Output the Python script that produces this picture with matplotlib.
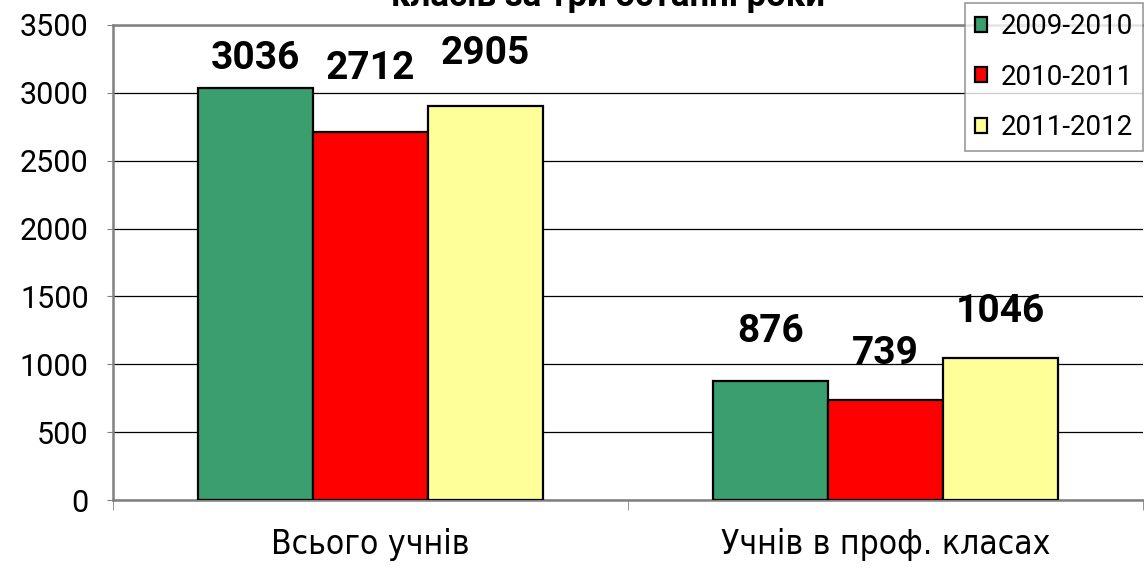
import matplotlib
matplotlib.use("Agg")
import matplotlib.pyplot as plt
from matplotlib import font_manager
import numpy as np

# data
categories = ["Всього учнів", "Учнів в проф. класах"]
years = ["2009-2010", "2010-2011", "2011-2012"]
values = [
    [3036, 876],   # 2009-2010
    [2712, 739],   # 2010-2011
    [2905, 1046],  # 2011-2012
]
colors = ["#3A9E6E", "#FF0000", "#FFFF99"]
# зсув підписів над стовпчиками (пікселі), як у оригіналі
label_offsets = [[11, 31], [45, 28], [34, 28]]

# вузький шрифт для підписів категорій, якщо є
cond = [f for f in font_manager.fontManager.ttflist
        if f.name == "DejaVu Sans" and f.stretch == "condensed" and f.weight in (400, "normal")]
if cond:
    cat_font = dict(family="DejaVu Sans", fontstretch="condensed", fontsize=24)
else:
    cat_font = dict(family="Roboto", fontsize=22)

plt.rcParams["font.family"] = ["Roboto", "DejaVu Sans"]

fig = plt.figure(figsize=(11.44, 5.70), dpi=100)
ax = fig.add_axes([113 / 1144, 70 / 570, 1030 / 1144, 475 / 570])

x = np.arange(len(categories))
w = 0.223
for i, (yr, vals) in enumerate(zip(years, values)):
    pos = x + (i - 1) * w
    ax.bar(pos, vals, width=w, color=colors[i], edgecolor="black",
           linewidth=1.6, label=yr, zorder=3)
    for p, v, off in zip(pos, vals, label_offsets[i]):
        ax.annotate(str(v), (p, v), xytext=(0, off * 0.72), textcoords="offset points",
                    ha="center", va="bottom", fontsize=28, fontweight="bold", zorder=4)

ax.set_xlim(-0.5, 1.5)
ax.set_ylim(0, 3500)
ax.set_yticks(np.arange(0, 3501, 500))
ax.yaxis.grid(True, color="black", linewidth=0.9, zorder=0)
ax.tick_params(axis="y", labelsize=22, length=4.5, pad=13, color="#808080")

ax.set_xticks(x)
ax.set_xticklabels(categories, **cat_font)
ax.tick_params(axis="x", which="major", length=0, pad=20)
ax.set_xticks([-0.5, 0.5, 1.5], minor=True)
ax.tick_params(axis="x", which="minor", length=7, color="#808080")

for s in ["left", "bottom", "top"]:
    ax.spines[s].set_color("#808080")
    ax.spines[s].set_linewidth(1.8)
ax.spines["right"].set_visible(False)

fig.text(608 / 1144, 1 - 6 / 570, "класів за три останні роки", ha="center",
         va="baseline", fontsize=25, fontweight="bold")

leg = fig.legend(loc="lower right", bbox_to_anchor=(1143 / 1144, 1 - 151 / 570),
                 fontsize=20, frameon=True, fancybox=False, borderaxespad=0,
                 handlelength=0.45, handleheight=0.45, handletextpad=0.5,
                 labelspacing=0.85, borderpad=0.35)
leg.get_frame().set_edgecolor("#808080")
leg.get_frame().set_linewidth(1.2)
for h in leg.legend_handles:
    h.set_linewidth(1.6)

fig.savefig("out.png", dpi=100)
